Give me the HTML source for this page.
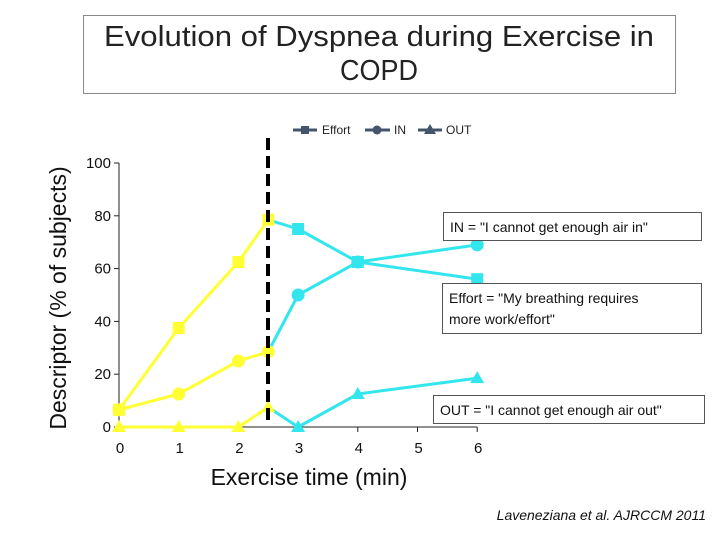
<!DOCTYPE html>
<html><head><meta charset="utf-8"><style>
html,body{margin:0;padding:0;background:#fff;}
svg{display:block;font-family:"Liberation Sans",Arial,sans-serif;}
</style></head><body>
<svg id="chart" width="720" height="540" viewBox="0 0 720 540">
<rect x="83.5" y="15.5" width="592" height="78" fill="#fff" stroke="#888"/>
<text x="379" y="46" font-size="29" text-anchor="middle" fill="#222" textLength="550" lengthAdjust="spacingAndGlyphs">Evolution of Dyspnea during Exercise in</text>
<text x="379" y="80" font-size="29" text-anchor="middle" fill="#222" textLength="78" lengthAdjust="spacingAndGlyphs">COPD</text>
<g id="legend">
<g><line x1="293" y1="130" x2="317" y2="130" stroke="#44546a" stroke-width="3"/><rect x="301" y="126" width="8" height="8" fill="#44546a"/><text x="322" y="134" font-size="12" fill="#222">Effort</text></g>
<g><line x1="365" y1="130" x2="390" y2="130" stroke="#44546a" stroke-width="3"/><circle cx="377" cy="130" r="4.5" fill="#44546a"/><text x="394" y="134" font-size="12" fill="#222">IN</text></g>
<g><line x1="418" y1="130" x2="442" y2="130" stroke="#44546a" stroke-width="3"/><path d="M430 124 L436 134 L424 134 Z" fill="#44546a"/><text x="446" y="134" font-size="12" fill="#222">OUT</text></g>
</g>
<g id="axes"></g>
<g id="marks"></g>
<line x1="268" y1="138" x2="268" y2="420" stroke="#000" stroke-width="4" stroke-dasharray="12,6"/>
<text transform="translate(66,298) rotate(-90)" font-size="23" text-anchor="middle" fill="#111">Descriptor (% of subjects)</text>
<text x="309" y="485" font-size="23" text-anchor="middle" fill="#111">Exercise time (min)</text>
<g><rect x="443.5" y="212.5" width="258" height="28" fill="#fff" stroke="#555"/><text x="450" y="232" font-size="14" fill="#111">IN  = "I cannot get enough air in"</text></g>
<g><rect x="442.5" y="283.5" width="259" height="50" fill="#fff" stroke="#555"/><text x="449" y="303" font-size="14" fill="#111">Effort = "My breathing requires</text><text x="449" y="324" font-size="14" fill="#111">more work/effort"</text></g>
<g><rect x="433.5" y="395.5" width="271" height="28" fill="#fff" stroke="#555"/><text x="440" y="415" font-size="14" fill="#111">OUT  = "I cannot get enough air out"</text></g>
<text x="706" y="520" font-size="14" font-style="italic" text-anchor="end" fill="#111">Laveneziana et al. AJRCCM 2011</text>
</svg>
<script>
const times=[0,1,2,2.5,3,4,6];
const effortVals=[6.5,37.5,62.5,78.5,75,62.5,56];
const inVals=[6.5,12.5,25,28.5,50,62.5,69];
const outVals=[0,0,0,7.5,0,12.5,18.5];
const xTicks=[0,1,2,3,4,5,6];
const yTicks=[0,20,40,60,80,100];
const splitTime=2.5;
const NS="http://www.w3.org/2000/svg";
function xs(v){return 119+v*59.7;}
function ys(v){return 427-v*2.64;}
function mk(tag,attrs,parent){const e=document.createElementNS(NS,tag);for(const k in attrs)e.setAttribute(k,attrs[k]);parent.appendChild(e);return e;}
const axes=document.getElementById('axes');
let a=mk('line',{x1:xs(0),y1:ys(0),x2:xs(6),y2:ys(0),stroke:'#222','stroke-width':1},axes);


a=mk('line',{x1:xs(0),y1:ys(0),x2:xs(0),y2:ys(100),stroke:'#222','stroke-width':1},axes);


xTicks.forEach(t=>{
 mk('line',{x1:xs(t),y1:ys(0),x2:xs(t),y2:ys(0)+5,stroke:'#222'},axes);
 const tx=mk('text',{x:xs(t)+1,y:453,'font-size':15,'text-anchor':'middle',fill:'#111'},axes);tx.textContent=t;
 
 
});
yTicks.forEach(t=>{
 mk('line',{x1:xs(0)-5,y1:ys(t),x2:xs(0),y2:ys(t),stroke:'#222'},axes);
 const tx=mk('text',{x:xs(0)-8,y:ys(t)+5,'font-size':15,'text-anchor':'end',fill:'#111'},axes);tx.textContent=t;
 
 
});
const marks=document.getElementById('marks');
function series(vals,shape,name){
 const g=mk('g',{},marks);
 
 
 for(let i=0;i<times.length-1;i++){
  const col=times[i]<splitTime?'#ffff33':'#33e6ee';
  mk('line',{x1:xs(times[i]),y1:ys(vals[i]),x2:xs(times[i+1]),y2:ys(vals[i+1]),stroke:col,'stroke-width':3},g);
 }
 times.forEach((t,i)=>{
  const col=t<=splitTime?'#ffff33':'#33e6ee';
  const x=xs(t),y=ys(vals[i]);let m;
  if(shape==='sq')m=mk('rect',{x:x-6,y:y-6,width:12,height:12,fill:col},g);
  else if(shape==='ci')m=mk('circle',{cx:x,cy:y,r:6.5,fill:col},g);
  else m=mk('path',{d:`M${x} ${y-7}L${x+7} ${y+5}L${x-7} ${y+5}Z`,fill:col},g);
  
  
 });
}
series(outVals,'tr','out');
series(inVals,'ci','in');
series(effortVals,'sq','effort');
</script>
</body></html>
